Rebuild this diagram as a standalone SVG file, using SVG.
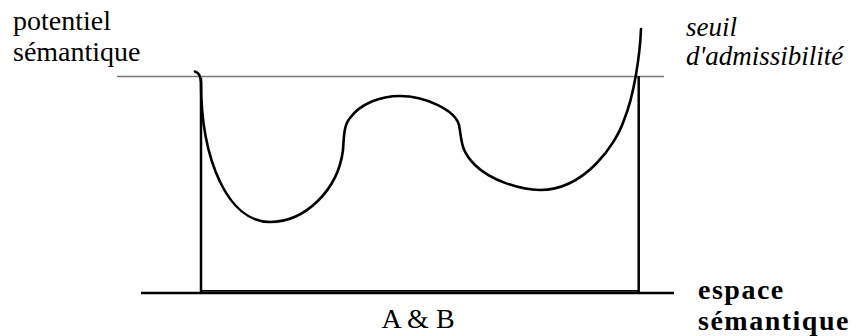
<svg xmlns="http://www.w3.org/2000/svg" width="862" height="336" viewBox="0 0 862 336">
<style>
text{font-family:"Liberation Serif","DejaVu Serif",serif;fill:#000}
.t{font-size:28px}
.i{font-style:italic;font-size:27px}
.b{font-weight:bold;font-size:28px;letter-spacing:1.5px}
.ln{stroke:#000;fill:none;stroke-width:2.5}
.thr{stroke:#777;stroke-width:1.5;fill:none}
.crv{stroke:#000;fill:none;stroke-width:2.6;stroke-linecap:round;stroke-linejoin:round}
</style>
<g id="axes">
<line class="thr" x1="117" y1="76.5" x2="664" y2="76.5"/>
<line class="ln" x1="141" y1="293" x2="674" y2="293"/>
<line class="ln" x1="200" y1="290.8" x2="638.5" y2="290.8" style="stroke-width:1.8"/>
<line class="ln" x1="201" y1="78" x2="201" y2="292"/>
<line class="ln" x1="638.7" y1="76" x2="638.7" y2="292"/>
</g>
<g id="curve">
<path class="crv" d="M195,71.5 Q200.5,73 201,82 C201,160 228,222 270,222 C305,222 338,190 343,150 C344,135 344,125 350,118 C360,104 380,96 400,96 C425,96 455,110 459,125 C462,140 460,150 475,165 C490,180 520,190 540,190 C585,190 616,144 624,120 C634,96 640,55 641,29"/>
</g>
<g id="label-potentiel">
<text class="t" x="13" y="30">potentiel</text>
<text class="t" x="13" y="61">sémantique</text>
</g>
<g id="label-seuil">
<text class="i" x="686" y="36">seuil</text>
<text class="i" x="686" y="65">d'admissibilité</text>
</g>
<g id="label-ab">
<text class="t" x="418" y="328" text-anchor="middle">A &amp; B</text>
</g>
<g id="label-espace">
<text class="b" x="698" y="299">espace</text>
<text class="b" x="698" y="330">sémantique</text>
</g>
</svg>
